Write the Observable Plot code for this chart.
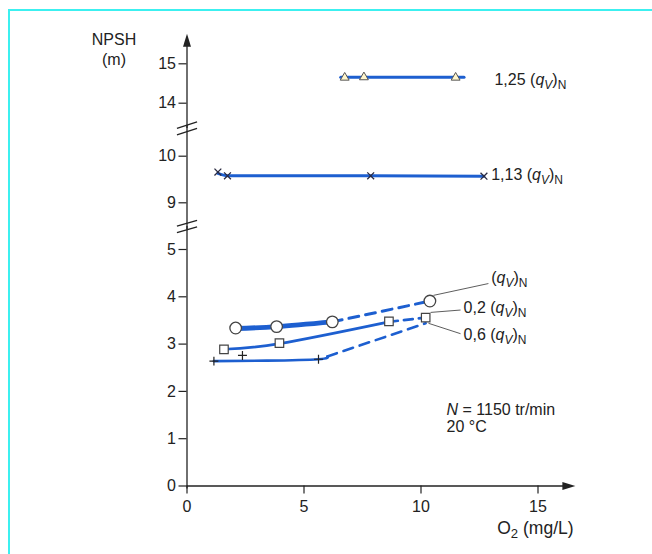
<!DOCTYPE html>
<html><head><meta charset="utf-8">
<script src="https://cdn.jsdelivr.net/npm/d3@7"></script>
<script src="https://cdn.jsdelivr.net/npm/@observablehq/plot@0.6"></script>
<style>
html,body{margin:0;padding:0;background:#fff;}
#wrap{position:relative;width:652px;height:554px;overflow:hidden;}
#frame{position:absolute;left:8px;top:9px;width:660px;height:560px;border-left:2px solid #3cf0f0;border-top:2px solid #3cf0f0;pointer-events:none;}
svg text{font-family:"Liberation Sans",Arial,sans-serif;}
</style></head><body><div id="wrap"><div id="frame"></div></div>
<script>
// ---- axis ticks and labels ----
const xTicks = [0, 5, 10, 15];
const yTicks = [0, 1, 2, 3, 4, 5, 9, 10, 14, 15];
const yBreaks = [6.97, 12.1];          // where the axis is broken
const yAxisTop = 15.6, xAxisEnd = 16.32;

// ---- series: (qV)N  (circles) ----
const circMarks = [[2.08, 3.34], [3.83, 3.37], [6.21, 3.47], [10.38, 3.91]];
const circSolid = [[2.08, 3.33], [3.83, 3.37], [6.21, 3.47]];
const circDash  = [[6.21, 3.47], [10.38, 3.91]];
// ---- series: 0,2 (qV)N  (squares) ----
const sqMarks = [[1.58, 2.89], [3.95, 3.02], [8.63, 3.48], [10.2, 3.56]];
const sqSolid = [[1.58, 2.89], [3.95, 3.01], [8.63, 3.47]];
const sqDash  = [[8.63, 3.47], [10.2, 3.56]];
// ---- series: 0,6 (qV)N  (plus) ----
const plusMarks = [[1.15, 2.64], [2.37, 2.76], [5.62, 2.68]];
const plusSolid = [[1.15, 2.64], [3.4, 2.65], [5.62, 2.68], [6.0, 2.74]];
const plusDash  = [[6.0, 2.74], [10.2, 3.44]];
// ---- series: 1,13 (qV)N  (times) ----
const timesMarks = [[1.32, 9.66], [1.73, 9.58], [7.85, 9.58], [12.69, 9.57]];
const timesLine  = [[1.32, 9.63], [1.73, 9.58], [7.85, 9.58], [12.69, 9.57]];
// ---- series: 1,25 (qV)N  (triangles) ----
const triMarks = [[6.74, 14.65], [7.56, 14.66], [11.48, 14.65]];
const triLine  = [[6.57, 14.66], [11.84, 14.66]];

// ---- labels ----
const seriesLabels = [
  {text: "1,25 (<i>q</i><sub><i>V</i></sub>)<sub>N</sub>", x: 13.14, y: 14.6},
  {text: "1,13 (<i>q</i><sub><i>V</i></sub>)<sub>N</sub>", x: 13.0, y: 9.6},
  {text: "(<i>q</i><sub><i>V</i></sub>)<sub>N</sub>", x: 13.0, y: 4.41},
  {text: "0,2 (<i>q</i><sub><i>V</i></sub>)<sub>N</sub>", x: 11.82, y: 3.77},
  {text: "0,6 (<i>q</i><sub><i>V</i></sub>)<sub>N</sub>", x: 11.82, y: 3.2}
];
const leaders = [
  [12.88, 4.28, 10.53, 4.03],
  [11.69, 3.72, 10.41, 3.67],
  [11.69, 3.22, 10.32, 3.44]
];
const notes = [
  {text: "<i>N</i> = 1150 tr/min", x: 11.09, y: 1.6},
  {text: "20 °C", x: 11.09, y: 1.26}
];
const yTitle = [{text: "NPSH", x: -3.12, y: 15.6}, {text: "(m)", x: -3.12, y: 15.1}];
const xTitle = [{text: "O<sub>2</sub> (mg/L)", x: 16.52, y: -0.9}];

const blue = "#1d5fd0", ink = "#222";
const arrowHead = {draw(ctx) { ctx.moveTo(0, -6.5); ctx.lineTo(4, 6.5); ctx.lineTo(-4, 6.5); ctx.closePath(); }};
const X = d => d[0], Y = d => d[1];

const plot = Plot.plot({
  width: 652, height: 554,
  marginLeft: 186.5, marginBottom: 68.5, marginTop: 30, marginRight: 114.5,
  style: {fontFamily: "Liberation Sans, Arial, sans-serif", fontSize: "16px", color: ink, background: "transparent"},
  x: {type: "linear", domain: [0, 15], range: [186.5, 537.5]},
  y: {type: "linear", domain: [0, 5, 9, 10, 14, 15], range: [485.5, 249, 202.3, 155.7, 102.7, 63.3]},
  marks: [
    Plot.axisX({ticks: xTicks, tickSize: 8, tickPadding: 7, label: null, stroke: ink, strokeWidth: 1.2, fontSize: 16}),
    Plot.axisY({ticks: yTicks, tickSize: 8, tickPadding: 3, label: null, stroke: ink, strokeWidth: 1.2, fontSize: 16}),
    // axis lines
    Plot.ruleY([0], {x1: 0, x2: xAxisEnd, stroke: ink, strokeWidth: 1.3}),
    Plot.ruleX([0], {y1: 0, y2: yBreaks[0], insetTop: 3, stroke: ink, strokeWidth: 1.3}),
    Plot.ruleX([0], {y1: yBreaks[0], y2: yBreaks[1], insetTop: 3, insetBottom: 3, stroke: ink, strokeWidth: 1.3}),
    Plot.ruleX([0], {y1: yBreaks[1], y2: yAxisTop, insetBottom: 3, stroke: ink, strokeWidth: 1.3}),
    Plot.link(yBreaks, {x1: -0.43, x2: 0.43, y1: b => b - 0.25, y2: b => b + 0.25, dy: -3.3, stroke: ink, strokeWidth: 1.3}),
    Plot.link(yBreaks, {x1: -0.43, x2: 0.43, y1: b => b - 0.25, y2: b => b + 0.25, dy: 3.3, stroke: ink, strokeWidth: 1.3}),
    Plot.dot([0], {x: 0, y: yAxisTop, symbol: arrowHead, fill: ink, stroke: "none"}),
    Plot.dot([0], {x: xAxisEnd, y: 0, symbol: arrowHead, rotate: 90, fill: ink, stroke: "none"}),
    // series lines
    Plot.line(triLine, {x: X, y: Y, stroke: blue, strokeWidth: 3}),
    Plot.line(timesLine, {x: X, y: Y, stroke: blue, strokeWidth: 3, curve: "monotone-x"}),
    Plot.line(circSolid, {x: X, y: Y, stroke: blue, strokeWidth: 4.8, curve: "natural"}),
    Plot.line(circDash, {x: X, y: Y, stroke: blue, strokeWidth: 3, strokeDasharray: "10,7"}),
    Plot.line(sqSolid, {x: X, y: Y, stroke: blue, strokeWidth: 2.6, curve: "natural"}),
    Plot.line(sqDash, {x: X, y: Y, stroke: blue, strokeWidth: 2.6, strokeDasharray: "9,6"}),
    Plot.line(plusSolid, {x: X, y: Y, stroke: blue, strokeWidth: 2.6, curve: "natural"}),
    Plot.line(plusDash, {x: X, y: Y, stroke: blue, strokeWidth: 2.6, strokeDasharray: "10,7"}),
    // markers
    Plot.dot(triMarks, {x: X, y: Y, symbol: "triangle", r: 3.3, fill: "#fff6cc", stroke: "#555", strokeWidth: 1}),
    Plot.dot(timesMarks, {x: X, y: Y, symbol: "times", r: 3.2, stroke: "#2a2a40", strokeWidth: 1.3}),
    Plot.dot(circMarks, {x: X, y: Y, symbol: "circle", r: 5.8, fill: "#fff", stroke: "#444", strokeWidth: 1.3}),
    Plot.dot(sqMarks, {x: X, y: Y, symbol: "square", r: 4.8, fill: "#fff", stroke: "#444", strokeWidth: 1.2}),
    Plot.dot(plusMarks, {x: X, y: Y, symbol: "plus", r: 3, stroke: "#222", strokeWidth: 1.2}),
    // leaders and labels
    Plot.link(leaders, {x1: d => d[0], y1: d => d[1], x2: d => d[2], y2: d => d[3], stroke: "#333", strokeWidth: 0.8}),
    Plot.text(seriesLabels, {x: "x", y: "y", text: "text", textAnchor: "start", fill: ink, fontSize: 16}),
    Plot.text(notes, {x: "x", y: "y", text: "text", textAnchor: "start", fill: ink, fontSize: 16}),
    Plot.text(yTitle, {x: "x", y: "y", text: "text", textAnchor: "middle", fill: ink, fontSize: 16}),
    Plot.text(xTitle, {x: "x", y: "y", text: "text", textAnchor: "end", fill: ink, fontSize: 17.5})
  ]
});

// rich text (italic, subscripts)
const svgNS = "http://www.w3.org/2000/svg";
function richify(el) {
  const src = el.textContent;
  if (!src.includes("<")) return;
  el.textContent = "";
  let italic = false, sub = false, shifted = false;
  for (const tok of src.split(/(<\/?i>|<\/?sub>)/)) {
    if (tok === "<i>") italic = true;
    else if (tok === "</i>") italic = false;
    else if (tok === "<sub>") sub = true;
    else if (tok === "</sub>") sub = false;
    else if (tok) {
      const ts = document.createElementNS(svgNS, "tspan");
      ts.textContent = tok;
      if (italic) ts.setAttribute("font-style", "italic");
      if (sub) ts.setAttribute("style", "font-size:0.75em");
      const want = sub ? 4 : 0, cur = shifted ? 4 : 0;
      if (want !== cur) ts.setAttribute("dy", want - cur);
      shifted = sub;
      el.appendChild(ts);
    }
  }
}
plot.querySelectorAll("text").forEach(richify);
document.getElementById("wrap").prepend(plot);
</script>
</body></html>
